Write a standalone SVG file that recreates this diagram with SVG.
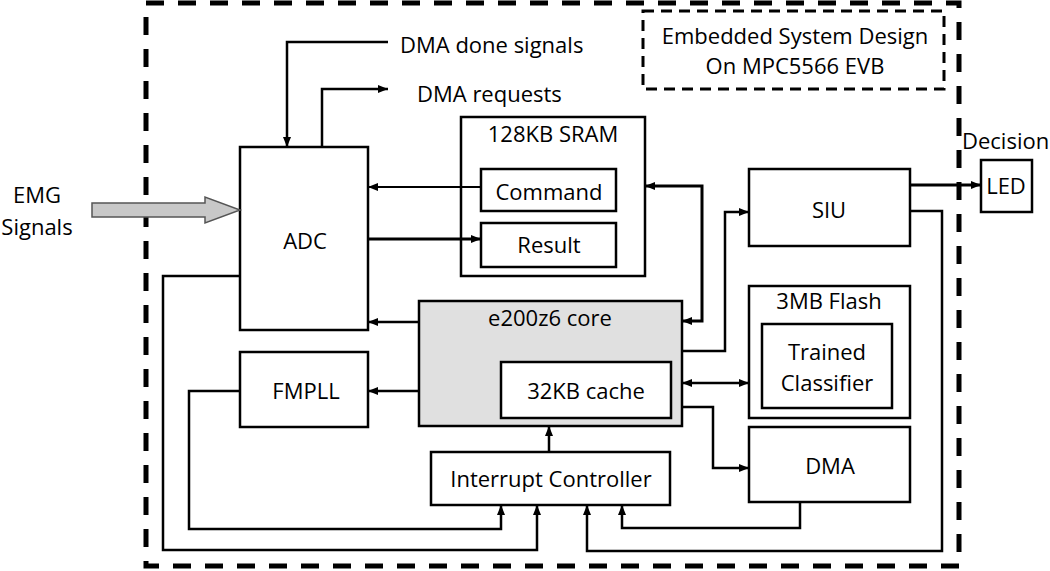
<svg xmlns="http://www.w3.org/2000/svg" width="1050" height="571" viewBox="0 0 1050 571">
<defs>
<marker id="ah" viewBox="0 0 10 10" refX="10" refY="5" markerWidth="10" markerHeight="10" markerUnits="userSpaceOnUse" orient="auto-start-reverse">
<path d="M0,1 L10,5 L0,9 z" fill="#000"/>
</marker>
<style>
.box{fill:#fff;stroke:#000;stroke-width:2.5}
.core{fill:#e0e0e0;stroke:#000;stroke-width:2.5}
.t{font-family:"Open Sans","Liberation Sans",sans-serif;font-size:22px;fill:#000;text-anchor:middle}
.tl{font-family:"Open Sans","Liberation Sans",sans-serif;font-size:22px;fill:#000;text-anchor:start}
.c{fill:none;stroke:#000;stroke-width:2.5;stroke-linejoin:miter}
.ce{marker-end:url(#ah)}
.cb{marker-start:url(#ah);marker-end:url(#ah)}
</style>
</defs>
<rect width="1050" height="571" fill="#fff"/>
<g id="outer-frame">
<rect x="146" y="3" width="813" height="563" fill="none" stroke="#000" stroke-width="5" stroke-dasharray="18 14"/>
</g>
<g id="title">
<rect x="643" y="11" width="301" height="78" fill="none" stroke="#000" stroke-width="3" stroke-dasharray="11 7"/>
<text class="t" x="795" y="44">Embedded System Design</text>
<text class="t" x="795" y="74">On MPC5566 EVB</text>
</g>
<g id="emg">
<text class="t" x="37" y="203">EMG</text>
<text class="t" x="37" y="235">Signals</text>
</g>
<g id="adc"><rect class="box" x="240" y="147" width="128" height="183"/><text class="t" x="305" y="249">ADC</text></g>
<g id="fmpll"><rect class="box" x="240" y="352" width="128" height="75"/><text class="t" x="306" y="399">FMPLL</text></g>
<g id="sram"><rect class="box" x="461" y="117" width="184" height="159"/><text class="t" x="553" y="142">128KB SRAM</text></g>
<g id="command"><rect class="box" x="481" y="169" width="135" height="42"/><text class="t" x="549" y="200">Command</text></g>
<g id="result"><rect class="box" x="481" y="223" width="135" height="44"/><text class="t" x="549" y="253">Result</text></g>
<g id="core"><rect class="core" x="419" y="301" width="263" height="125"/><text class="t" x="550" y="326">e200z6 core</text></g>
<g id="cache"><rect class="box" x="501" y="362" width="170" height="56"/><text class="t" x="586" y="399">32KB cache</text></g>
<g id="interrupt-controller"><rect class="box" x="431" y="452" width="239" height="53"/><text class="t" x="551" y="487">Interrupt Controller</text></g>
<g id="siu"><rect class="box" x="749" y="169" width="161" height="77"/><text class="t" x="829" y="218">SIU</text></g>
<g id="flash"><rect class="box" x="749" y="286" width="161" height="132"/><text class="t" x="829" y="309">3MB Flash</text></g>
<g id="classifier"><rect class="box" x="762" y="324" width="130" height="84"/><text class="t" x="827" y="360">Trained</text><text class="t" x="827" y="391">Classifier</text></g>
<g id="dma"><rect class="box" x="749" y="427" width="161" height="75"/><text class="t" x="830" y="474">DMA</text></g>
<g id="led"><rect class="box" x="981" y="160" width="51" height="52"/><text class="t" x="1006" y="194">LED</text></g>
<g id="decision"><text class="tl" x="962" y="149">Decision</text></g>
<g id="dma-labels">
<text class="tl" x="400" y="53">DMA done signals</text>
<text class="tl" x="417" y="102">DMA requests</text>
</g>
<g id="connectors">
<polygon points="92,203 205,203 205,197 240,210 205,223 205,217 92,217" fill="#c8c8c8" stroke="#555" stroke-width="1.5"/>
<polyline class="c ce" points="388,42 287,42 287,147"/>
<polyline class="c ce" points="322,147 322,89 388,89"/>
<polyline class="c ce" points="481,187 368,187" style="stroke-width:2"/>
<polyline class="c ce" points="368,239 481,239" style="stroke-width:3"/>
<polyline class="c cb" points="645,186 702,186 702,321 682,321" style="stroke-width:3"/>
<polyline class="c ce" points="419,322 368,322"/>
<polyline class="c ce" points="419,391 368,391"/>
<polyline class="c ce" points="682,351 725,351 725,212 749,212"/>
<polyline class="c cb" points="682,383 749,383"/>
<polyline class="c ce" points="682,407 713,407 713,468 749,468"/>
<polyline class="c ce" points="549,452 549,426"/>
<polyline class="c ce" points="240,391 189,391 189,529 501,529 501,505"/>
<polyline class="c ce" points="240,276 163,276 163,550 537,550 537,505"/>
<polyline class="c ce" points="910,211 942,211 942,551 587,551 587,505"/>
<polyline class="c ce" points="800,502 800,528 622,528 622,505"/>
<polyline class="c ce" points="910,185 981,185" style="stroke-width:3"/>
</g>
</svg>
